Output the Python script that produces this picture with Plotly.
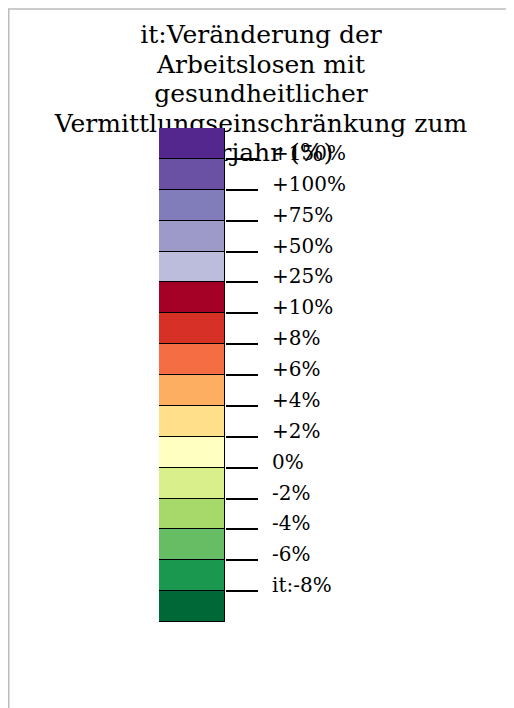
import plotly.graph_objects as go
import numpy as np

# Legend classes, top to bottom
class_names = ["> +150%", "+100% – +150%", "+75% – +100%", "+50% – +75%", "+25% – +50%",
               "+10% – +25%", "+8% – +10%", "+6% – +8%", "+4% – +6%", "+2% – +4%",
               "0% – +2%", "-2% – 0%", "-4% – -2%", "-6% – -4%", "-8% – -6%", "< -8%"]
class_colors = ["#54278f", "#6a51a3", "#807dba", "#9e9ac8", "#bcbddc",
                "#a50026", "#d73027", "#f46d43", "#fdae61", "#fee08b",
                "#ffffbf", "#d9ef8b", "#a6d96a", "#66bd63", "#1a9850", "#006837"]
class_sizes = [1, 1, 1, 1, 1, 1, 1, 1, 1, 1, 1, 1, 1, 1, 1, 1]
# Boundary labels, top to bottom
boundary_labels = ["+150%", "+100%", "+75%", "+50%", "+25%", "+10%", "+8%", "+6%",
                   "+4%", "+2%", "0%", "-2%", "-4%", "-6%", "it:-8%"]
title_lines = ["it:Veränderung der", "Arbeitslosen mit", "gesundheitlicher",
               "Vermittlungseinschränkung zum", "Vorjahr (%)"]

FONT = "DejaVu Serif"

fig = go.Figure()
# stack from bottom
for name, col, size in zip(class_names[::-1], class_colors[::-1], class_sizes[::-1]):
    fig.add_trace(go.Bar(x=[0], y=[size], name=name,
                         marker=dict(color=col, line=dict(color="black", width=1)),
                         cliponaxis=False, hoverinfo="name", showlegend=False))

bounds = np.cumsum(class_sizes[::-1])[:-1]
total = float(np.sum(class_sizes))

W, H = 506, 700
L, R, T, B = 151, 289, 120, 86
pw, ph = W - L - R, H - T - B


def px2paper_x(px):
    return (px - L) / pw


def px2paper_y(py):
    return (H - B - py) / ph


shapes = [
    dict(type="line", xref="paper", yref="paper",
         x0=px2paper_x(0), x1=px2paper_x(W), y0=px2paper_y(1), y1=px2paper_y(1),
         line=dict(color="#bbbbbb", width=1.5), layer="below"),
    dict(type="line", xref="paper", yref="paper",
         x0=px2paper_x(0.75), x1=px2paper_x(0.75), y0=px2paper_y(1), y1=px2paper_y(H),
         line=dict(color="#bbbbbb", width=1.5), layer="below"),
]
title_centers = [24.5, 54.1, 83.7, 113.3, 142.9]
for line_text, cy in zip(title_lines, title_centers):
    shapes.append(dict(type="rect", xref="paper", yref="paper",
                       x0=px2paper_x(10), x1=px2paper_x(W - 10),
                       y0=px2paper_y(cy + 10), y1=px2paper_y(cy - 10),
                       line=dict(width=0), fillcolor="rgba(0,0,0,0)", layer="below",
                       label=dict(text=line_text, textposition="middle center", padding=0,
                                  font=dict(family=FONT, size=25, color="black"))))

fig.update_layout(
    width=W, height=H,
    margin=dict(l=L, r=R, t=T, b=B, pad=0),
    paper_bgcolor="white", plot_bgcolor="rgba(0,0,0,0)",
    barmode="stack", bargap=0,
    font=dict(family=FONT, color="black"),
    xaxis=dict(visible=False, range=[-0.5, 0.5], fixedrange=True),
    yaxis=dict(range=[0, total], side="right", showgrid=False, zeroline=False,
               tickmode="array", tickvals=list(bounds), ticktext=boundary_labels[::-1],
               ticks="outside", ticklen=32, tickwidth=2, tickcolor="black",
               ticklabelstandoff=10, ticklabelshift=-6,
               tickfont=dict(family=FONT, size=20, color="black"), showline=False,
               fixedrange=True),
    shapes=shapes,
)

fig.write_html("out.html")
